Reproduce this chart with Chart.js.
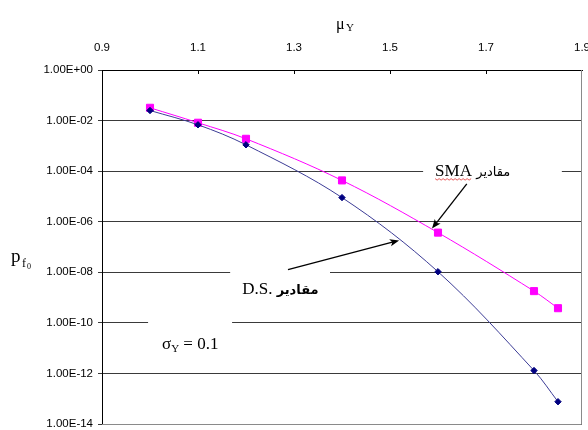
<!DOCTYPE html>
<html>
<head>
<meta charset="utf-8">
<script src="https://cdn.jsdelivr.net/npm/chart.js@4"></script>
<style>
  html, body { margin: 0; padding: 0; background: #fff; }
  #wrap { width: 588px; height: 430px; }
</style>
</head>
<body>
<div id="wrap"><canvas id="pfChart" width="588" height="430"></canvas></div>
<script>
const muY = [1.0, 1.1, 1.2, 1.4, 1.6, 1.8, 1.85];
const pfDS = [2.5e-2, 6.8e-3, 1.1e-3, 9e-6, 1.05e-8, 1.3e-12, 7.6e-14];
const pfSMA = [3.2e-2, 8.2e-3, 1.9e-3, 4.3e-5, 3.7e-7, 1.8e-9, 3.8e-10];
const xTicks = [0.9, 1.1, 1.3, 1.5, 1.7, 1.9];
const yTicks = [1e0, 1e-2, 1e-4, 1e-6, 1e-8, 1e-10, 1e-12, 1e-14];
const yTickLabels = ["1.00E+00", "1.00E-02", "1.00E-04", "1.00E-06", "1.00E-08", "1.00E-10", "1.00E-12", "1.00E-14"];

const serif = "'Liberation Serif', 'DejaVu Serif', serif";
const arabic = "'DejaVu Sans', sans-serif";

function pts(ys) {
  return muY.map((x, i) => ({ x: x, y: ys[i] }));
}

// gaps in gridlines behind the text labels: [mu from, mu to, exponent]
const gaps = [
  [1.569, 1.858, -4],
  [1.167, 1.375, -8],
  [0.996, 1.171, -10],
];

const extras = {
  id: "extras",
  beforeDatasetsDraw(chart) {
    const { ctx, chartArea: a, scales } = chart;
    const xs = scales.x, ys = scales.y;
    ctx.save();
    ctx.fillStyle = "#fff";
    gaps.forEach((g) => {
      const x1 = xs.getPixelForValue(g[0]);
      const x2 = xs.getPixelForValue(g[1]);
      const y = ys.getPixelForValue(Math.pow(10, g[2]));
      ctx.fillRect(x1, y - 3, x2 - x1, 6);
    });
    // right and bottom frame
    ctx.strokeStyle = "#8a8a8a";
    ctx.lineWidth = 1;
    ctx.beginPath();
    ctx.moveTo(a.right - 0.5, a.top);
    ctx.lineTo(a.right - 0.5, a.bottom + 0.5);
    ctx.lineTo(a.left, a.bottom + 0.5);
    ctx.stroke();
    // inner ticks on the top axis
    ctx.strokeStyle = "#000";
    ctx.beginPath();
    xTicks.slice(1, -1).forEach((v) => {
      const x = Math.round(xs.getPixelForValue(v)) + 0.5;
      ctx.moveTo(x, a.top);
      ctx.lineTo(x, a.top + 4);
    });
    ctx.stroke();
    ctx.restore();
  },
  afterDatasetsDraw(chart) {
    const { ctx, scales } = chart;
    const P = (mu, e) => [scales.x.getPixelForValue(mu), scales.y.getPixelForValue(Math.pow(10, e))];
    ctx.save();
    ctx.fillStyle = "#000";
    ctx.textBaseline = "alphabetic";
    ctx.textAlign = "left";

    // SMA label
    let p = P(1.594, -3.94);
    ctx.font = "17px " + serif;
    ctx.fillText("SMA", p[0], p[1] + 6);
    let w = ctx.measureText("SMA ").width;
    ctx.font = "13px " + arabic;
    ctx.fillText("مقادیر", p[0] + w, p[1] + 6);
    // red squiggle under SMA
    ctx.strokeStyle = "#e03030";
    ctx.lineWidth = 0.8;
    ctx.beginPath();
    const sw = w - 4;
    for (let i = 0; i <= sw; i += 2) {
      const yy = p[1] + 9 + (i % 4 === 0 ? 0 : 1.5);
      if (i === 0) ctx.moveTo(p[0] + i, yy); else ctx.lineTo(p[0] + i, yy);
    }
    ctx.stroke();

    // D.S. label
    p = P(1.192, -8.64);
    ctx.font = "17px " + serif;
    ctx.fillText("D.S.", p[0], p[1] + 6);
    w = ctx.measureText("D.S. ").width;
    ctx.font = "bold 13px " + arabic;
    ctx.fillText("مقادیر", p[0] + w, p[1] + 6);

    // sigma label
    p = P(1.025, -10.84);
    ctx.font = "17px " + serif;
    ctx.fillText("σ", p[0], p[1] + 5);
    w = ctx.measureText("σ").width;
    ctx.font = "11px " + serif;
    ctx.fillText("Y", p[0] + w, p[1] + 8);
    const w2 = ctx.measureText("Y").width;
    ctx.font = "17px " + serif;
    ctx.fillText(" = 0.1", p[0] + w + w2, p[1] + 5);

    // arrows
    arrow(ctx, P(1.660, -4.50), P(1.5875, -6.27));
    arrow(ctx, P(1.2875, -7.89), P(1.519, -6.74));

    // axis titles
    ctx.font = "16px " + serif;
    ctx.fillText("μ", 336, 29);
    ctx.font = "11px " + serif;
    ctx.fillText("Y", 346, 31);

    ctx.font = "19px " + serif;
    ctx.fillText("p", 11, 262);
    ctx.font = "12px " + serif;
    ctx.fillText("f", 22, 267);
    ctx.font = "8px " + serif;
    ctx.fillText("0", 27, 269);
    ctx.restore();
  },
};

function arrow(ctx, from, to) {
  const ang = Math.atan2(to[1] - from[1], to[0] - from[0]);
  const len = 10, half = 0.38;
  ctx.strokeStyle = "#000";
  ctx.fillStyle = "#000";
  ctx.lineWidth = 1.3;
  ctx.beginPath();
  ctx.moveTo(from[0], from[1]);
  ctx.lineTo(to[0] - Math.cos(ang) * 6, to[1] - Math.sin(ang) * 6);
  ctx.stroke();
  ctx.beginPath();
  ctx.moveTo(to[0], to[1]);
  ctx.lineTo(to[0] - len * Math.cos(ang - half), to[1] - len * Math.sin(ang - half));
  ctx.lineTo(to[0] - len * 0.7 * Math.cos(ang), to[1] - len * 0.7 * Math.sin(ang));
  ctx.lineTo(to[0] - len * Math.cos(ang + half), to[1] - len * Math.sin(ang + half));
  ctx.closePath();
  ctx.fill();
}

const ctx = document.getElementById("pfChart").getContext("2d");
const chart = new Chart(ctx, {
  type: "line",
  data: {
    datasets: [
      {
        label: "D.S.",
        data: pts(pfDS),
        borderColor: "#3c3c96",
        borderWidth: 1,
        pointStyle: "rectRot",
        pointRadius: 3.2,
        pointBackgroundColor: "#000080",
        pointBorderColor: "#000080",
        tension: 0.35,
        fill: false,
      },
      {
        label: "SMA",
        data: pts(pfSMA),
        borderColor: "#ff00ff",
        borderWidth: 1,
        pointStyle: "rect",
        pointRadius: 5,
        pointBackgroundColor: "#ff00ff",
        pointBorderColor: "#ff00ff",
        tension: 0.35,
        fill: false,
      },
    ],
  },
  options: {
    responsive: false,
    animation: false,
    layout: { padding: { left: 0, right: 6, top: 0, bottom: 4 } },
    plugins: { legend: { display: false }, tooltip: { enabled: false } },
    scales: {
      x: {
        type: "linear",
        position: "top",
        min: 0.9,
        max: 1.9,
        afterBuildTicks: (scale) => {
          scale.ticks = xTicks.map((v) => ({ value: v }));
        },
        afterFit: (scale) => {
          scale.height = 70;
          scale.paddingLeft = 0;
          scale.paddingRight = 0;
        },
        grid: { drawOnChartArea: false, drawTicks: false },
        border: { display: true, color: "#000", width: 1 },
        ticks: {
          padding: 15,
          color: "#000",
          font: { family: "'Liberation Sans', Arial, sans-serif", size: 11.5 },
          maxRotation: 0,
          callback: (v) => v.toFixed(1),
        },
      },
      y: {
        type: "logarithmic",
        min: 1e-14,
        max: 1,
        afterBuildTicks: (scale) => {
          scale.ticks = yTicks.map((v) => ({ value: v }));
        },
        afterFit: (scale) => {
          scale.width = 102;
          scale.paddingTop = 0;
          scale.paddingBottom = 0;
        },
        grid: { color: "#3a3a3a", lineWidth: 1, tickLength: 4, drawTicks: true },
        border: { display: true, color: "#000", width: 1 },
        ticks: {
          padding: 5,
          color: "#000",
          font: { family: "'Liberation Sans', Arial, sans-serif", size: 11.5 },
          callback: (v, i) => yTickLabels[i],
        },
      },
    },
  },
  plugins: [extras],
});
</script>
</body>
</html>
